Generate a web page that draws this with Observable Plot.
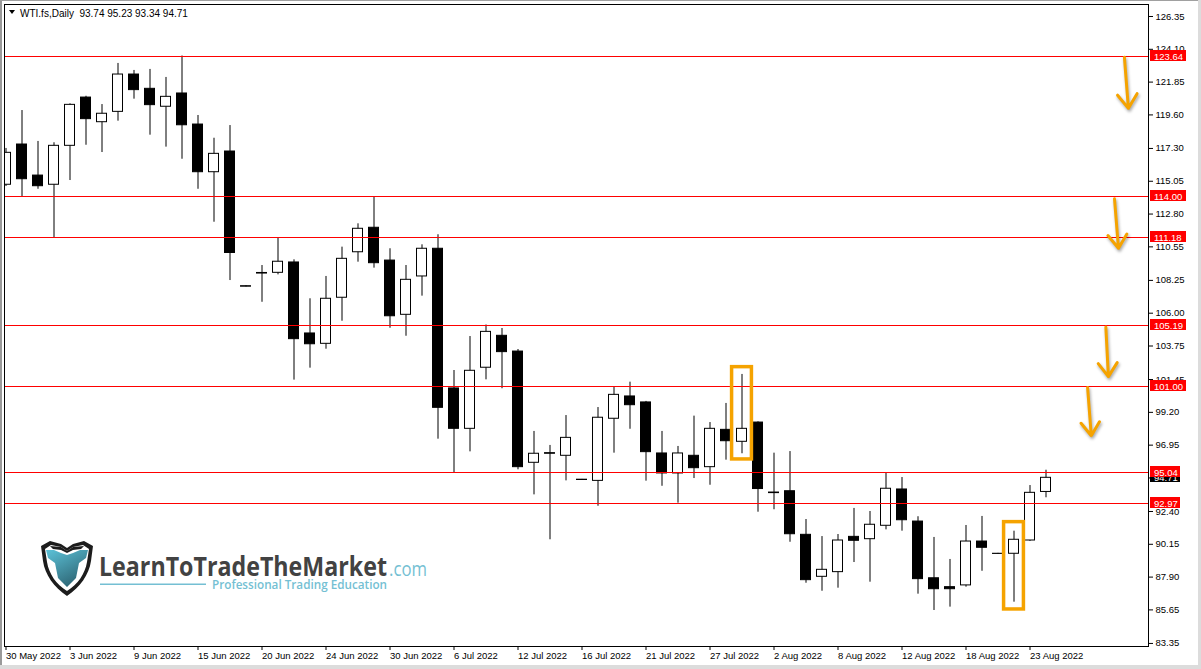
<!DOCTYPE html>
<html><head><meta charset="utf-8">
<script src="https://cdn.jsdelivr.net/npm/d3@7"></script>
<script src="https://cdn.jsdelivr.net/npm/@observablehq/plot@0.6"></script>
<style>
html,body{margin:0;padding:0;background:#fff;}
#chart{position:relative;width:1201px;height:669px;overflow:hidden;}
svg{display:block;}
</style></head><body><div id="chart"></div>
<script>
// ---- data ----
const dates = ["2022-05-30","2022-05-31","2022-06-01","2022-06-02","2022-06-03","2022-06-06","2022-06-07","2022-06-08","2022-06-09","2022-06-10",
"2022-06-13","2022-06-14","2022-06-15","2022-06-16","2022-06-17","2022-06-19","2022-06-20","2022-06-21","2022-06-22","2022-06-23",
"2022-06-24","2022-06-27","2022-06-28","2022-06-29","2022-06-30","2022-07-01","2022-07-04","2022-07-05","2022-07-06","2022-07-07",
"2022-07-08","2022-07-11","2022-07-12","2022-07-13","2022-07-14","2022-07-15","2022-07-16","2022-07-18","2022-07-19","2022-07-20",
"2022-07-21","2022-07-22","2022-07-25","2022-07-26","2022-07-27","2022-07-28","2022-07-29","2022-08-01","2022-08-02","2022-08-03",
"2022-08-04","2022-08-05","2022-08-08","2022-08-09","2022-08-10","2022-08-11","2022-08-12","2022-08-15","2022-08-16","2022-08-17",
"2022-08-18","2022-08-19","2022-08-21","2022-08-22","2022-08-23","2022-08-24"];
const open = [114.81,117.57,115.44,114.81,117.48,120.79,119.10,119.81,122.37,121.39,
120.16,121.07,118.94,115.67,117.09,107.85,108.76,108.77,109.48,104.61,
103.90,107.06,110.18,111.86,109.61,105.89,108.52,110.42,100.84,98.07,
102.26,104.45,103.37,95.74,96.40,96.22,94.58,94.50,98.76,100.29,
99.88,96.38,95.01,96.22,95.44,98.00,97.18,98.50,93.70,93.79,
90.80,87.92,88.24,90.66,90.50,91.42,93.91,91.71,87.82,87.21,
87.33,90.34,89.50,89.50,90.41,93.74];
const high = [117.30,119.90,117.78,117.69,120.36,120.88,120.31,123.13,122.65,122.72,
122.17,123.64,119.56,118.00,118.87,107.88,109.27,111.18,109.66,106.99,
108.52,110.53,112.13,114.00,110.42,109.27,110.69,111.38,102.07,104.40,
105.19,104.95,103.51,97.89,96.93,98.98,94.60,99.53,100.93,101.27,
99.95,97.89,96.86,98.94,98.50,99.81,101.80,98.55,96.40,96.51,
91.85,90.68,90.82,92.61,92.40,95.04,94.73,92.04,90.62,89.11,
91.44,92.06,89.53,91.05,94.18,95.23];
const low = [114.69,114.00,114.50,111.18,115.10,117.52,117.02,119.17,120.68,118.21,
117.39,116.56,114.50,112.24,108.24,107.80,106.75,108.63,101.41,102.23,
103.53,105.45,109.50,109.09,104.97,104.42,107.17,97.36,95.04,96.49,
101.43,100.82,95.26,93.54,90.46,94.50,94.55,92.76,96.40,98.04,
94.48,94.13,92.97,94.66,94.20,95.92,96.36,92.35,92.52,90.29,
87.48,86.93,87.14,88.90,87.55,91.14,91.05,86.73,85.61,85.84,
87.21,88.30,89.48,86.18,90.35,93.34];
const close = [117.00,115.19,114.71,117.48,120.29,119.31,119.68,122.37,121.30,120.27,
120.84,118.89,115.67,116.93,110.13,107.82,108.72,109.53,104.22,103.87,
106.99,109.73,111.79,109.43,105.79,108.29,110.42,99.51,98.07,102.05,
104.72,103.33,95.44,96.36,96.36,97.45,94.56,98.83,100.40,99.69,
96.47,95.01,96.38,95.37,98.07,97.22,98.07,93.94,93.66,90.84,
87.69,88.40,90.41,90.39,91.49,93.96,91.80,87.76,87.07,87.07,
90.34,89.91,89.49,90.46,93.68,94.71];

const levels = [123.64, 114.00, 111.18, 105.19, 101.00, 95.04, 92.97];   // red horizontal lines
const priceTicks = [126.35,124.10,121.85,119.60,117.30,115.05,112.80,110.55,108.25,106.00,
103.75,101.45,99.20,96.95,94.70,92.40,90.15,87.90,85.65,83.35];
const dateTickEvery = 4;
const symbolName = "WTI.fs,Daily";
const lastPrice = 94.71;
// highlight boxes: bar index, price top, price bottom
const boxBars = [46, 63];
const boxTops = [102.30, 91.67];
const boxBottoms = [95.97, 85.68];
// arrows: start bar/price -> end bar/price
const arrowX1 = [69.90, 69.28, 68.74, 67.60];
const arrowY1 = [123.55, 113.85, 105.05, 100.90];
const arrowX2 = [70.15, 69.53, 68.90, 67.83];
const arrowY2 = [120.05, 110.45, 101.65, 97.60];
const brandName = "LearnToTradeTheMarket";
const brandTld = ".com";
const brandTagline = "Professional Trading Education";

// ---- build tables ----
const parse = d3.utcParse("%Y-%m-%d");
const fmtDate = d3.utcFormat("%-d %b %Y");
const bars = dates.map((d, i) => ({i, date: parse(d), o: open[i], h: high[i], l: low[i], c: close[i]}));
const boxes = boxBars.map((b, k) => ({bar: b, top: boxTops[k], bottom: boxBottoms[k]}));
const arrows = arrowX1.map((x, k) => ({x1: x, y1: arrowY1[k], x2: arrowX2[k], y2: arrowY2[k]}));
const dateTicks = d3.range(0, bars.length, dateTickEvery);
const last = bars[bars.length - 1];
const header = `${symbolName}  ${[last.o, last.h, last.l, last.c].map(v => v.toFixed(2)).join(" ")}`;

const FONT = "'Liberation Sans', Arial, sans-serif";
const AXFS = 9.5;
const ORANGE = "#f5a300";
const half = 5 / 16; // body half width in bar units

function priceLabels(index, scales, values, dims) {
  const g = d3.create("svg:g").attr("font-family", FONT).attr("font-size", AXFS).attr("text-anchor", "start");
  const x0 = dims.width - dims.marginRight + 2;
  const items = [{v: lastPrice, bg: "#000"}].concat(levels.map(v => ({v, bg: "#ff0000"})));
  for (const it of items) {
    const y = Math.round(scales.y(it.v));
    const t = it.v.toFixed(2);
    const w = t.length * 6;
    g.append("rect").attr("x", x0).attr("y", y - 6).attr("width", w).attr("height", 11).attr("fill", it.bg);
    g.append("text").attr("x", x0 + 4).attr("y", y + 3.5).attr("fill", "white").text(t);
  }
  return g.node();
}

function windowBorder(index, scales, values, dims) {
  const g = d3.create("svg:g");
  g.append("rect").attr("x", 0).attr("y", 0).attr("width", 2).attr("height", dims.height).attr("fill", "#9a9a9a");
  g.append("rect").attr("x", 0).attr("y", 0).attr("width", dims.width).attr("height", 1).attr("fill", "#a0a0a0");
  g.append("rect").attr("x", dims.width - 3).attr("y", 0).attr("width", 3).attr("height", dims.height).attr("fill", "#dcdcdc");
  g.append("rect").attr("x", 0).attr("y", dims.height - 4).attr("width", dims.width).attr("height", 4).attr("fill", "#dcdcdc");
  return g.node();
}

function headerMark(index, scales, values, dims) {
  const g = d3.create("svg:g").attr("font-family", FONT).attr("text-anchor", "start");
  g.append("path").attr("d", "M9,10 L15,10 L12,14 Z").attr("fill", "#000");
  g.append("text").attr("x", 20).attr("y", 16.5).attr("font-size", 10).attr("fill", "#000")
    .style("white-space", "pre").text(header);
  return g.node();
}

function logoMark(index, scales, values, dims) {
  const g = d3.create("svg:g").attr("text-anchor", "start");
  const defs = g.append("defs");
  const lg = defs.append("linearGradient").attr("id", "teal").attr("x1", 0).attr("y1", 0).attr("x2", 0.6).attr("y2", 1);
  lg.append("stop").attr("offset", "0%").attr("stop-color", "#5cc2d8");
  lg.append("stop").attr("offset", "100%").attr("stop-color", "#2e6675");
  const s = g.append("g").attr("transform", "translate(41,541)");
  s.append("path").attr("fill", "#1c1c1c")
    .attr("d", "M0,5 L9,0 L20,3 L26,7 L32,3 L43,0 L52,5 L50,20 C48,34 39,46 26,55 C13,46 4,34 2,20 Z");
  s.append("path").attr("fill", "#ffffff")
    .attr("d", "M4,8 L10,4 L20,6 L26,10 L32,6 L42,4 L48,8 L46,21 C44,33 37,43 26,50 C15,43 8,33 6,21 Z");
  s.append("path").attr("fill", "url(#teal)")
    .attr("d", "M5,9 L13,9 L20,12 L26,14 L32,12 L39,9 L47,9 L45,17 L38,22 L35,37 L26,46 L17,37 L14,22 L7,17 Z");
  s.append("path").attr("fill", "#1c1c1c").attr("d", "M9,5 L20,6 L26,10 L32,6 L43,5 L40,8 L32,9 L26,12 L20,9 L12,8 Z");
  const t = g.append("g").attr("font-family", "'Open Sans', 'Noto Sans', sans-serif");
  t.append("text").attr("x", 99).attr("y", 576).attr("font-size", 26).attr("font-weight", 700)
    .attr("fill", "#424242").attr("textLength", 288).attr("lengthAdjust", "spacingAndGlyphs").text(brandName);
  t.append("text").attr("x", 389).attr("y", 576).attr("font-size", 20).attr("font-weight", 400)
    .attr("fill", "#74bfd3").attr("textLength", 38).attr("lengthAdjust", "spacingAndGlyphs").text(brandTld);
  g.append("rect").attr("x", 100).attr("y", 583.5).attr("width", 106).attr("height", 1.5).attr("fill", "#74bfd3");
  t.append("text").attr("x", 212).attr("y", 588.5).attr("font-size", 12).attr("font-weight", 600)
    .attr("fill", "#74bfd3").attr("textLength", 175).attr("lengthAdjust", "spacingAndGlyphs").text(brandTagline);
  return g.node();
}

const chart = Plot.plot({
  width: 1201, height: 669,
  marginLeft: 4, marginRight: 53, marginTop: 4, marginBottom: 23,
  x: {type: "linear", domain: [-0.094, 71.406], axis: null},
  y: {domain: [83.14, 127.173], axis: null},
  color: {type: "identity"},
  style: {fontFamily: FONT, fontSize: AXFS + "px", background: "white", color: "black", overflow: "visible"},
  marks: [
    logoMark,
    Plot.ruleX(bars, {x: "i", y1: "l", y2: "h", stroke: "black", strokeWidth: 1, clip: true}),
    Plot.rect(bars, {x1: d => d.i - half, x2: d => d.i + half, y1: "o", y2: "c",
      fill: d => d.c >= d.o ? "white" : "black", stroke: "black", strokeWidth: 1, clip: true}),
    Plot.ruleY(levels, {stroke: "#ff0000", strokeWidth: 1, shapeRendering: "crispEdges"}),
    Plot.rect(boxes, {x1: d => d.bar - 0.62, x2: d => d.bar + 0.62, y1: "bottom", y2: "top",
      fill: "none", stroke: ORANGE, strokeWidth: 3.5}),
    Plot.arrow(arrows, {x1: "x1", y1: "y1", x2: "x2", y2: "y2", stroke: ORANGE, strokeWidth: 3, headLength: 9, headAngle: 70}),
    Plot.axisY({anchor: "right", ticks: priceTicks, tickFormat: d => d.toFixed(2), tickSize: 4, tickPadding: 3, fontSize: AXFS}),
    Plot.axisX({ticks: dateTicks, tickFormat: i => fmtDate(bars[i].date), tickSize: 4, tickPadding: 1.5,
      textAnchor: "start", dx: 0, fontSize: AXFS}),
    Plot.frame({stroke: "black", shapeRendering: "crispEdges"}),
    priceLabels,
    headerMark,
    windowBorder
  ]
});
d3.select(chart).selectAll("g[aria-label='arrow'], g[aria-label='rect']").filter((d, i, nodes) => {
  const el = nodes[i];
  return el.getAttribute("aria-label") === "arrow" || el.querySelector("rect[fill='none']");
}).style("filter", "drop-shadow(1px 2px 1.5px rgba(0,0,0,0.35))");
document.getElementById("chart").appendChild(chart);
</script></body></html>
